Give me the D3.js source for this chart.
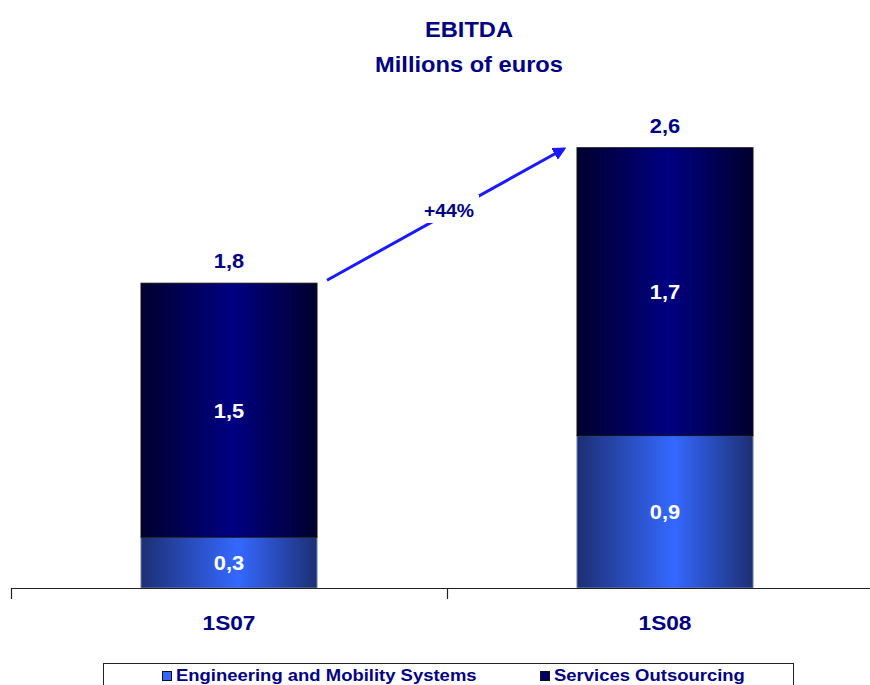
<!DOCTYPE html>
<html>
<head>
<meta charset="utf-8">
<script src="https://cdn.jsdelivr.net/npm/d3@7"></script>
<style>
  html, body { margin: 0; padding: 0; background: #fff; }
  svg { display: block; font-family: "Liberation Sans", Arial, sans-serif; }
</style>
</head>
<body>
<svg id="chart" width="870" height="685"></svg>
<script>
// EBITDA by business line, millions of euros
const categories = ["1S07", "1S08"];
const engineering = [0.3, 0.9];   // Engineering and Mobility Systems
const services = [1.5, 1.7];      // Services Outsourcing
const seriesNames = ["Engineering and Mobility Systems", "Services Outsourcing"];
const growthLabel = "+44%";
const titleLines = ["EBITDA", "Millions of euros"];

const navy = "#000080";
const fmt = d3.formatLocale({ decimal: ",", thousands: ".", grouping: [3], currency: ["", " €"] }).format(".1f");

// the typeface is set slightly wide; stretch text horizontally around its anchor
const stretch = (sx) => (sel) => sel.attr("transform", function () {
  const t = d3.select(this);
  return `translate(${t.attr("data-x")},${t.attr("data-y")}) scale(${sx},1)`;
});

const svg = d3.select("#chart");
const defs = svg.append("defs");

// horizontal shading across each bar segment
function hGrad(id, edge, mid, midPos) {
  const g = defs.append("linearGradient").attr("id", id)
    .attr("x1", "0%").attr("x2", "100%").attr("y1", "0%").attr("y2", "0%");
  g.append("stop").attr("offset", "0%").attr("stop-color", edge);
  g.append("stop").attr("offset", midPos).attr("stop-color", mid);
  g.append("stop").attr("offset", "100%").attr("stop-color", edge);
}
hGrad("gradEng", "#1d2f74", "#3468ff", "55%");
hGrad("gradSvc", "#00002e", "#000082", "52%");

const baseline = 588;
const y = d3.scaleLinear().domain([0, 3]).range([baseline, 80]);
const x = d3.scaleBand().domain(categories).range([11, 883]).padding(0);
const barW = 176;
const barX = c => x(c) + (x.bandwidth() - barW) / 2;

const stacked = categories.map((c, i) => ({
  cat: c,
  segs: [
    { key: "eng", v0: 0, v1: engineering[i], fill: "url(#gradEng)" },
    { key: "svc", v0: engineering[i], v1: engineering[i] + services[i], fill: "url(#gradSvc)" }
  ],
  total: engineering[i] + services[i]
}));

// titles
svg.selectAll("text.title").data(titleLines).join("text")
  .attr("class", "title")
  .attr("data-x", 469).attr("data-y", (d, i) => 37 + i * 35)
  .attr("text-anchor", "middle")
  .attr("font-size", 21.5).attr("font-weight", "bold")
  .attr("fill", navy)
  .text(d => d)
  .call(stretch(1.1));

// bars
const groups = svg.selectAll("g.bar").data(stacked).join("g").attr("class", "bar");
groups.selectAll("rect").data(d => d.segs.map(s => ({ ...s, cat: d.cat }))).join("rect")
  .attr("x", d => barX(d.cat))
  .attr("y", d => y(d.v1))
  .attr("width", barW)
  .attr("height", d => y(d.v0) - y(d.v1))
  .attr("fill", d => d.fill)
  .attr("stroke", d => d.key === "svc" ? "#111" : "#6b7aa8")
  .attr("stroke-width", 1);

// segment values
groups.selectAll("text.seg").data(d => d.segs.map(s => ({ ...s, cat: d.cat }))).join("text")
  .attr("class", "seg")
  .attr("data-x", d => barX(d.cat) + barW / 2)
  .attr("data-y", d => (y(d.v0) + y(d.v1)) / 2 + 7.5)
  .attr("text-anchor", "middle")
  .attr("font-size", 21).attr("font-weight", "bold")
  .attr("fill", "#fff")
  .text(d => fmt(d.v1 - d.v0))
  .call(stretch(1.04));

// totals above bars
groups.append("text")
  .attr("data-x", d => barX(d.cat) + barW / 2)
  .attr("data-y", d => y(d.total) - 15)
  .attr("text-anchor", "middle")
  .attr("font-size", 21).attr("font-weight", "bold")
  .attr("fill", navy)
  .text(d => fmt(d.total))
  .call(stretch(1.04));

// category axis: baseline with ticks at category boundaries
const axis = svg.append("g");
axis.append("line")
  .attr("x1", x.range()[0]).attr("x2", x.range()[1])
  .attr("y1", baseline + 0.5).attr("y2", baseline + 0.5)
  .attr("stroke", "#222").attr("stroke-width", 1.2);
axis.selectAll("line.tick").data(categories).join("line")
  .attr("class", "tick")
  .attr("x1", d => x(d) + 0.5).attr("x2", d => x(d) + 0.5)
  .attr("y1", baseline).attr("y2", baseline + 11)
  .attr("stroke", "#222").attr("stroke-width", 1.2);
axis.selectAll("text").data(categories).join("text")
  .attr("data-x", d => x(d) + x.bandwidth() / 2)
  .attr("data-y", baseline + 42)
  .attr("text-anchor", "middle")
  .attr("font-size", 21).attr("font-weight", "bold")
  .attr("fill", navy)
  .text(d => d)
  .call(stretch(1.08));

// growth arrow between the two totals
defs.append("marker").attr("id", "arrowHead")
  .attr("viewBox", "0 0 10 10").attr("refX", 8).attr("refY", 5)
  .attr("markerWidth", 4.5).attr("markerHeight", 4.5)
  .attr("orient", "auto")
  .append("path").attr("d", "M0,0 L10,5 L0,10 Z").attr("fill", "#1a1aff");

const a0 = [barX(categories[0]) + barW + 10, y(stacked[0].total) - 3];
const a1 = [barX(categories[1]) - 13, y(stacked[1].total) + 1];
svg.append("line")
  .attr("x1", a0[0]).attr("y1", a0[1])
  .attr("x2", a1[0]).attr("y2", a1[1])
  .attr("stroke", "#1a1aff").attr("stroke-width", 3)
  .attr("marker-end", "url(#arrowHead)");

const gx = 449, gy = 210;
svg.append("rect")
  .attr("x", gx - 30).attr("y", gy - 15).attr("width", 60).attr("height", 28)
  .attr("fill", "#fff");
svg.append("text")
  .attr("data-x", gx).attr("data-y", gy + 7)
  .attr("text-anchor", "middle")
  .attr("font-size", 19).attr("font-weight", "bold")
  .attr("fill", navy)
  .text(growthLabel)
  .call(stretch(1.02));

// legend
const legend = svg.append("g");
legend.append("rect")
  .attr("x", 103.5).attr("y", 663.5).attr("width", 690).attr("height", 40)
  .attr("fill", "#fff").attr("stroke", "#222").attr("stroke-width", 1);
const legendItems = [
  { name: seriesNames[0], fill: "#3366ff", x: 162 },
  { name: seriesNames[1], fill: "#000066", x: 540 }
];
const li = legend.selectAll("g.item").data(legendItems).join("g").attr("class", "item");
li.append("rect")
  .attr("x", d => d.x + 0.5).attr("y", 671.5).attr("width", 9).attr("height", 9)
  .attr("fill", d => d.fill).attr("stroke", "#111").attr("stroke-width", 1);
li.append("text")
  .attr("data-x", d => d.x + 14).attr("data-y", 681)
  .attr("font-size", 16.5).attr("font-weight", "bold")
  .attr("fill", navy)
  .text(d => d.name)
  .call(stretch(1.12));
</script>
</body>
</html>
